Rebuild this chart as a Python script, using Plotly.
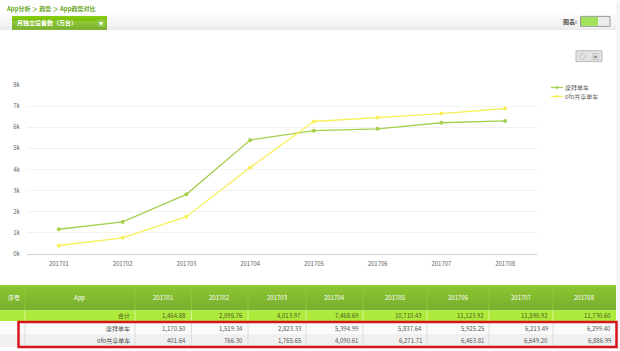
import plotly.graph_objects as go

months = ["201701", "201702", "201703", "201704", "201705", "201706", "201707", "201708"]
mobike = [1170.50, 1519.34, 2823.33, 5394.99, 5837.64, 5925.25, 6213.49, 6299.40]
ofo = [401.64, 766.30, 1765.65, 4090.61, 6271.71, 6463.81, 6649.20, 6886.99]
totals = ["1,464.88", "2,095.76", "4,013.97", "7,468.69", "10,710.43", "11,123.92", "11,590.92", "11,730.60"]
mobike_name = "摩拜单车"
ofo_name = "ofo共享单车"
y_ticks = [0, 1000, 2000, 3000, 4000, 5000, 6000, 7000, 8000]
y_labels = ["0k", "1k", "2k", "3k", "4k", "5k", "6k", "7k", "8k"]

W, H = 620, 351
L, R, T, B = 27, 537, 84.5, 254.5
FONT = "Noto Sans CJK SC, Open Sans, sans-serif"
GREEN = "#a4d04e"
YELLOW = "#f8f05a"

def px(x):
    return (x - L) / (R - L)

def py(y):
    return (B - y) / (B - T)

shapes, anns = [], []

def rect(x0, y0, x1, y1, fill, line=None, lw=1, layer="below"):
    shapes.append(dict(type="rect", xref="paper", yref="paper", layer=layer,
                       x0=px(x0), x1=px(x1), y0=py(y1), y1=py(y0), fillcolor=fill,
                       line=dict(color=line or "rgba(0,0,0,0)", width=lw if line else 0)))

def vline(x, y0, y1, color):
    shapes.append(dict(type="line", xref="paper", yref="paper", layer="below", x0=px(x), x1=px(x),
                       y0=py(y1), y1=py(y0), line=dict(color=color, width=1)))

def text(x, y, s, color="#555555", size=6, anchor="center", weight=None):
    t = f"<b>{s}</b>" if weight else s
    anns.append(dict(xref="paper", yref="paper", x=px(x), y=py(y), text=t, showarrow=False,
                     xanchor=anchor, yanchor="middle", xshift=0, borderpad=0, borderwidth=0,
                     font=dict(family=FONT, size=size, color=color)))

def gradient(x0, y0, x1, y1, c0, c1, layer="below"):
    a = [int(c0[i:i + 2], 16) for i in (1, 3, 5)]
    b = [int(c1[i:i + 2], 16) for i in (1, 3, 5)]
    n = int(round(y1 - y0))
    for i in range(n):
        f = i / max(n - 1, 1)
        c = tuple(round(a[j] + (b[j] - a[j]) * f) for j in range(3))
        rect(x0, y0 + i, x1, y0 + i + 1, "rgb(%d,%d,%d)" % c, layer=layer)

# top band
gradient(0, 10, 616, 28, "#ffffff", "#ececec")
rect(0, 28, 616, 29, "#e2e2e2")
rect(616, 0, 620, 351, "#f4f4f4")
text(6, 7.5, "App分析 ＞ 趋势 ＞ App趋势对比", "#6aa51a", 6, "left", True)

# dropdown button
gradient(12, 15, 107, 29, "#86cc10", "#5fa305")
text(17, 22, "月独立设备数（万台）", "#ffffff", 6, "left", True)
rect(97, 18.5, 105, 26, "#8fc84a")
text(101, 22, "▾", "#ffffff", 8)

# chart switch
text(577, 21, "图表:", "#555555", 6, "right", True)
rect(580.5, 15.5, 610, 25.5, "#ececec", "#9a9a9a", 1)
rect(581, 16, 598, 25, "#a2e25a")

# export buttons
rect(576, 50, 602, 61, "#e2e2e2", "#bbbbbb", 1)
text(582.5, 55.5, "◇", "#888888", 7)
text(595, 55.5, "▣", "#888888", 7)

# manual legend
for ly, name, col in [(87, mobike_name, GREEN), (96, ofo_name, YELLOW)]:
    shapes.append(dict(type="line", xref="paper", yref="paper", x0=px(551), x1=px(563), y0=py(ly), y1=py(ly),
                       line=dict(color=col, width=1.2)))
    shapes.append(dict(type="circle", xref="paper", yref="paper", x0=px(555.5), x1=px(558.5),
                       y0=py(ly + 1.5), y1=py(ly - 1.5), fillcolor=col, line=dict(width=0)))
    text(565, ly, name, "#666666", 6, "left")

# table
edges = [0, 25, 135, 191.5, 248, 306, 363, 427, 489, 553, 616]
gradient(0, 286, 616, 311, "#72b800", "#5a9c00")
rect(0, 311, 616, 322, "#aeea3c")
rect(0, 322, 616, 335, "#fbfbfb")
rect(0, 335, 616, 348, "#f0f0f0")
for e in edges[1:-1]:
    vline(e, 286, 311, "#8cc63a")
    vline(e, 311, 322, "#d8f59a")
    vline(e, 322, 348, "#dddddd")
text(14, 298.5, "序号", "#ffffff", 6)
text(79, 298.5, "App", "#ffffff", 6)
text(130, 316.5, "合计", "#4d5a20", 6, "right")
text(130, 329, mobike_name, "#555555", 6, "right")
text(130, 341.5, ofo_name, "#555555", 6, "right")
for i, m in enumerate(months):
    cx = (edges[i + 2] + edges[i + 3]) / 2
    right = edges[i + 3] - 5.5
    text(cx, 298.5, m, "#ffffff", 6)
    text(right, 316.5, totals[i], "#4d5a20", 6, "right")
    text(right, 329, f"{mobike[i]:,.2f}", "#555555", 6, "right")
    text(right, 341.5, f"{ofo[i]:,.2f}", "#555555", 6, "right")
rect(18.5, 323, 616.5, 348, "rgba(0,0,0,0)", "#d8141c", 2.5, layer="above")

fig = go.Figure()
for name, vals, col in [(mobike_name, mobike, GREEN), (ofo_name, ofo, YELLOW)]:
    fig.add_trace(go.Scatter(x=months, y=vals, name=name, mode="lines+markers",
                             line=dict(color=col, width=1.3), marker=dict(color=col, size=4)))

fig.update_layout(
    width=W, height=H, autosize=False, showlegend=False,
    margin=dict(l=L, r=W - R, t=T, b=H - B, pad=0, autoexpand=False),
    paper_bgcolor="#ffffff", plot_bgcolor="#ffffff",
    font=dict(family=FONT, size=6, color="#666666"),
    shapes=shapes, annotations=anns,
    xaxis=dict(type="category", range=[-0.5, 7.5], showgrid=False, zeroline=False, showline=True,
               linecolor="#c6d4df", ticks="outside", ticklen=4, tickcolor="rgba(0,0,0,0)",
               tickfont=dict(size=6, color="#666666")),
    yaxis=dict(range=[0, 8000], tickvals=y_ticks, ticktext=y_labels, gridcolor="#f2f2f2", gridwidth=1,
               zeroline=False, showline=False, ticks="outside", ticklen=5, tickcolor="rgba(0,0,0,0)",
               tickfont=dict(size=6, color="#666666")),
)
fig.write_html("out.html", config={"displayModeBar": False},
               post_script="document.body.style.margin='0';document.body.style.overflow='hidden';")
